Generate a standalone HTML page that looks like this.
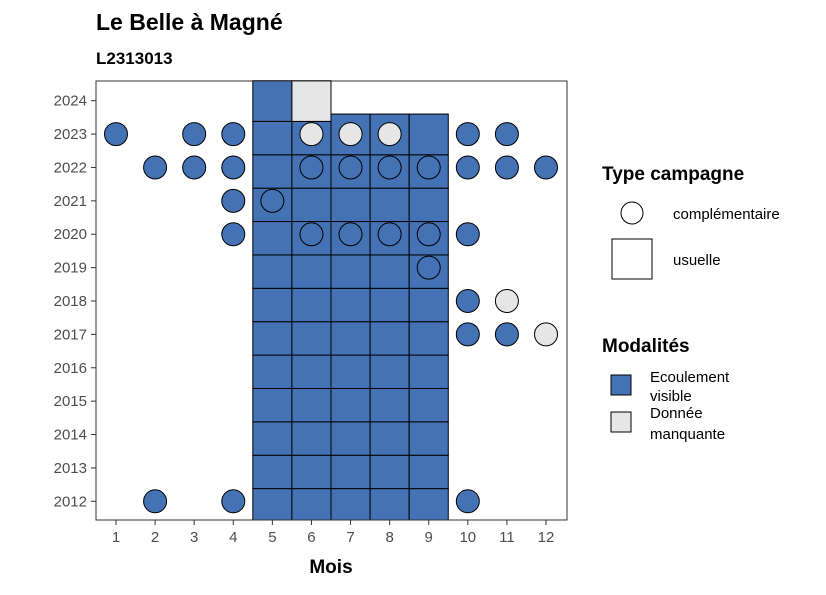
<!DOCTYPE html>
<html><head><meta charset="utf-8"><style>
body{margin:0;background:#fff;font-family:"Liberation Sans",sans-serif}
</style></head><body>
<svg width="826" height="590" viewBox="0 0 826 590" font-family="Liberation Sans, sans-serif">
<text x="96" y="30" font-size="23" font-weight="bold">Le Belle à Magné</text>
<text x="96" y="64" font-size="17" font-weight="bold">L2313013</text>
<g id="plot"></g>
<rect x="96" y="81" width="471" height="439" fill="none" stroke="#333" stroke-width="1"/>
<text x="331" y="573" font-size="19" font-weight="bold" text-anchor="middle">Mois</text>
<g>
<text x="602" y="180" font-size="19" font-weight="bold">Type campagne</text>
<circle cx="632" cy="213" r="11" fill="#fff" stroke="#000"/>
<text x="673" y="219" font-size="15">complémentaire</text>
<rect x="612" y="239" width="40" height="40" fill="#fff" stroke="#000"/>
<text x="673" y="265" font-size="15">usuelle</text>
<text x="602" y="352" font-size="19" font-weight="bold">Modalités</text>
<rect x="611" y="375" width="20" height="20" fill="#4472b4" stroke="#000"/>
<text x="650" y="382" font-size="15">Ecoulement</text>
<text x="650" y="401" font-size="15">visible</text>
<rect x="611" y="412" width="20" height="20" fill="#e6e6e6" stroke="#000"/>
<text x="650" y="418" font-size="15">Donnée</text>
<text x="650" y="439" font-size="15">manquante</text>
</g>
</svg>
<script>
const months=[1,2,3,4,5,6,7,8,9,10,11,12];
const years=[2012,2013,2014,2015,2016,2017,2018,2019,2020,2021,2022,2023,2024];
// tiles: month, year, modality (usuelle campaigns)
const tileMonths=[5,5,5,5,5,5,5,5,5,5,5,5,5, 6,6,6,6,6,6,6,6,6,6,6,6,6, 7,7,7,7,7,7,7,7,7,7,7,7, 8,8,8,8,8,8,8,8,8,8,8,8, 9,9,9,9,9,9,9,9,9,9,9,9];
const tileYears=[2012,2013,2014,2015,2016,2017,2018,2019,2020,2021,2022,2023,2024, 2012,2013,2014,2015,2016,2017,2018,2019,2020,2021,2022,2023,2024, 2012,2013,2014,2015,2016,2017,2018,2019,2020,2021,2022,2023, 2012,2013,2014,2015,2016,2017,2018,2019,2020,2021,2022,2023, 2012,2013,2014,2015,2016,2017,2018,2019,2020,2021,2022,2023];
const tileMod=["e","e","e","e","e","e","e","e","e","e","e","e","e", "e","e","e","e","e","e","e","e","e","e","e","e","m", "e","e","e","e","e","e","e","e","e","e","e","e", "e","e","e","e","e","e","e","e","e","e","e","e", "e","e","e","e","e","e","e","e","e","e","e","e"];
// points
const ptMonth=[1,3,4,6,7,8,10,11, 2,3,4,6,7,8,9,10,11,12, 4,5, 4,6,7,8,9,10, 9, 10,11, 10,11,12, 2,4,10];
const ptYear=[2023,2023,2023,2023,2023,2023,2023,2023, 2022,2022,2022,2022,2022,2022,2022,2022,2022,2022, 2021,2021, 2020,2020,2020,2020,2020,2020, 2019, 2018,2018, 2017,2017,2017, 2012,2012,2012];
const ptMod=["e","e","e","m","m","m","e","e", "e","e","e","e","e","e","e","e","e","e", "e","e", "e","e","e","e","e","e", "e", "e","m", "e","e","m", "e","e","e"];

const NS="http://www.w3.org/2000/svg";
const g=document.getElementById('plot');
const xs=m=>116+(m-1)*(546-116)/11;
const ys=y=>501.3-(y-2012)*(400.6/12);
const col=m=>m==="e"?"#4472b4":"#e6e6e6";
const bw=(546-116)/11;
const yMin=2011.44, yMax=2024.6;
function mk(t,a){const e=document.createElementNS(NS,t);for(const k in a)e.setAttribute(k,a[k]);g.appendChild(e);return e;}
// last row of each month: top edge of the highest tile
const lastTop=m=>m===7||m===8||m===9?2023.6:yMax;
tileMonths.forEach((m,i)=>{
 const y=tileYears[i];
 const isLast=!tileMonths.some((mm,j)=>mm===m&&tileYears[j]>y);
 const lo=Math.max(y-0.62,yMin);
 const hi=isLast?lastTop(m):Math.min(y+0.38,yMax);
 const r=mk('rect',{x:xs(m)-bw/2,y:ys(hi),width:bw,height:ys(lo)-ys(hi),fill:col(tileMod[i]),stroke:"#000","stroke-width":1});
 
 
});
ptMonth.forEach((m,i)=>{
 const c=mk('circle',{cx:xs(m),cy:ys(ptYear[i]),r:11.5,fill:col(ptMod[i]),stroke:"#000","stroke-width":1});
 
 
});
months.forEach(m=>{
 const t=mk('line',{x1:xs(m),x2:xs(m),y1:520,y2:525,stroke:"#333"});
 
 
 const l=mk('text',{x:xs(m),y:542,"font-size":15,fill:"#4d4d4d","text-anchor":"middle"});
 l.textContent=m;
 
 
});
years.forEach(y=>{
 const t=mk('line',{x1:91,x2:96,y1:ys(y),y2:ys(y),stroke:"#333"});
 
 
 const l=mk('text',{x:87,y:ys(y)+5,"font-size":15,fill:"#4d4d4d","text-anchor":"end"});
 l.textContent=y;
 
 
});
</script>
</body></html>
